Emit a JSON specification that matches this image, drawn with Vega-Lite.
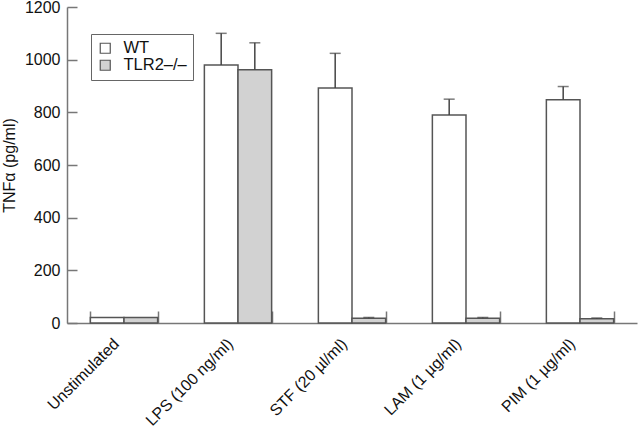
{
  "$schema": "https://vega.github.io/schema/vega-lite/v6.json",
  "autosize": "none",
  "width": 570,
  "height": 316,
  "padding": {"left": 67, "top": 7, "right": 3, "bottom": 111},
  "background": "white",
  "config": {
    "font": "Liberation Sans",
    "view": {"stroke": null}
  },
  "data": {
    "values": [
      {"cond": "Unstimulated", "geno": "WT", "value": 21},
      {"cond": "Unstimulated", "geno": "TLR2–/–", "value": 21},
      {"cond": "LPS (100 ng/ml)", "geno": "WT", "value": 980, "hi": 1100},
      {"cond": "LPS (100 ng/ml)", "geno": "TLR2–/–", "value": 962, "hi": 1064},
      {"cond": "STF (20 µl/ml)", "geno": "WT", "value": 892, "hi": 1024},
      {"cond": "STF (20 µl/ml)", "geno": "TLR2–/–", "value": 18, "hi": 21},
      {"cond": "LAM (1 µg/ml)", "geno": "WT", "value": 790, "hi": 850},
      {"cond": "LAM (1 µg/ml)", "geno": "TLR2–/–", "value": 18, "hi": 21},
      {"cond": "PIM (1 µg/ml)", "geno": "WT", "value": 848, "hi": 898},
      {"cond": "PIM (1 µg/ml)", "geno": "TLR2–/–", "value": 16, "hi": 19}
    ]
  },
  "encoding": {
    "x": {
      "field": "cond", "type": "nominal", "sort": null,
      "scale": {"paddingInner": 0.41, "paddingOuter": 0.205},
      "axis": {"title": null, "grid": false, "labelAngle": -45, "labelAlign": "right", "labelBaseline": "middle", "tickBand": "extent", "tickSize": -12, "labelPadding": 30, "labelOffset": -8, "domainColor": "#777", "tickColor": "#777", "domainWidth": 1.5, "tickWidth": 1.5, "labelFontSize": 16, "labelFont": "Liberation Sans", "labelColor": "#111"}
    },
    "xOffset": {"field": "geno", "type": "nominal", "sort": ["WT", "TLR2–/–"]}
  },
  "layer": [
    {
      "mark": {"type": "bar", "stroke": "#555", "strokeWidth": 1.5},
      "encoding": {
        "y": {
          "field": "value", "type": "quantitative",
          "scale": {"domain": [0, 1200]},
          "axis": {"title": "TNFα (pg/ml)", "grid": false, "format": "d", "values": [0, 200, 400, 600, 800, 1000, 1200], "tickSize": -10, "labelPadding": 17, "titlePadding": 7, "domainColor": "#777", "tickColor": "#777", "domainWidth": 1.5, "tickWidth": 1.5, "labelFontSize": 16, "labelFont": "Liberation Sans", "labelColor": "#111", "titleFontSize": 16, "titleFontWeight": "normal", "titleFont": "Liberation Sans", "titleColor": "#111"}
        },
        "fill": {
          "field": "geno", "type": "nominal", "sort": ["WT", "TLR2–/–"],
          "scale": {"domain": ["WT", "TLR2–/–"], "range": ["#ffffff", "#d2d2d2"]},
          "legend": {"title": null, "orient": "none", "legendX": 24, "legendY": 27, "symbolType": "square", "symbolSize": 100, "symbolStrokeColor": "#555", "symbolStrokeWidth": 1.2, "labelFontSize": 16.5, "labelFont": "Liberation Sans", "labelColor": "#111", "strokeColor": "#666", "padding": 6, "rowPadding": 0, "labelOffset": 10, "fillColor": "white"}
        }
      }
    },
    {
      "transform": [{"filter": "datum.hi != null"}],
      "mark": {"type": "rule", "color": "#444", "strokeWidth": 1.5},
      "encoding": {
        "y": {"field": "value", "type": "quantitative"},
        "y2": {"field": "hi"}
      }
    },
    {
      "transform": [{"filter": "datum.hi != null"}],
      "mark": {"type": "tick", "color": "#444", "thickness": 1.5, "size": 11, "orient": "horizontal"},
      "encoding": {
        "y": {"field": "hi", "type": "quantitative"}
      }
    }
  ]
}
